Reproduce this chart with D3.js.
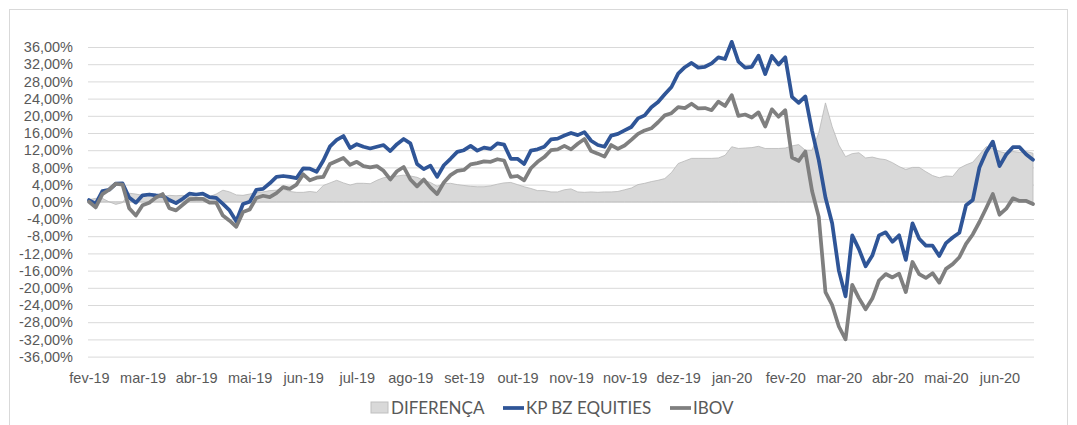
<!DOCTYPE html>
<html>
<head>
<meta charset="utf-8">
<script src="https://cdn.jsdelivr.net/npm/d3@7"></script>
<style>
  body { margin: 0; background: #fff; }
  svg { display: block; font-family: Lato, "Open Sans", sans-serif; }
</style>
</head>
<body>
<svg id="chart" width="1077" height="425"></svg>
<script>
// accumulated return (%), roughly every 3 trading days
const kp = [
  0.4, -0.5, 2.5, 2.8, 4.2, 4.3, 1.0, -0.2, 1.5, 1.7,
  1.5, 1.4, 0.4, -0.3, 0.7, 1.9, 1.7, 1.9, 1.1, 0.9,
  -0.5, -2.0, -4.5, -0.5, 0.0, 2.8, 3.0, 4.3, 5.8, 6.0,
  5.8, 5.5, 7.8, 7.7, 7.0, 9.6, 12.9, 14.4, 15.3, 12.5,
  13.4, 12.8, 12.4, 12.8, 13.2, 11.8, 13.4, 14.6, 13.6, 8.8,
  7.6, 8.4, 5.8, 8.5, 10.0, 11.6, 12.0, 13.0, 11.9, 12.6,
  12.3, 13.6, 13.3, 10.0, 10.0, 8.8, 11.9, 12.2, 12.8, 14.5,
  14.7, 15.4, 16.0, 15.5, 16.2, 14.2, 13.2, 12.8, 15.4, 15.8,
  16.6, 17.4, 19.4, 20.1, 22.0, 23.2, 25.0, 26.7, 29.8, 31.3,
  32.3, 31.2, 31.4, 32.2, 33.6, 33.2, 37.2, 32.6, 31.2, 31.4,
  34.0, 29.7, 33.9, 31.9, 33.6, 24.4, 23.0, 24.5, 16.5, 9.7,
  1.0, -5.0, -16.0, -22.0, -7.8, -11.0, -15.0, -12.5, -7.8, -7.1,
  -9.3, -7.8, -13.5, -5.0, -8.6, -10.2, -10.2, -12.6, -9.6, -8.3,
  -7.2, -0.8, 0.4, 8.0, 11.5, 14.0, 8.3, 11.0, 12.7, 12.7,
  11.0, 9.8
];

const ibov = [
  0.0, -1.3, 1.8, 2.8, 4.2, 4.0, -1.5, -3.2, -0.8, -0.2,
  1.0, 1.8, -1.5, -2.0, -0.7, 0.6, 0.7, 0.7, -0.2, -0.2,
  -3.2, -4.4, -5.8, -2.4, -1.8, 0.9, 1.4, 1.1, 2.0, 3.4,
  3.0, 4.0, 6.4, 5.0, 5.6, 5.8, 8.8, 9.5, 10.2, 8.6,
  9.3, 8.3, 8.0, 8.3, 7.2, 5.2, 7.1, 8.1, 5.2, 3.6,
  5.2, 3.3, 1.8, 4.5, 6.2, 7.2, 7.4, 8.7, 9.0, 9.4,
  9.3, 9.9, 9.6, 5.8, 6.0, 5.0, 7.8, 9.3, 10.4, 12.0,
  12.2, 13.0, 12.2, 13.5, 14.6, 11.8, 11.2, 10.5, 13.2, 12.3,
  13.1, 14.4, 15.8, 16.6, 17.1, 18.5, 20.1, 20.6, 22.0, 21.8,
  22.8, 21.7, 21.8, 21.3, 23.3, 22.3, 24.8, 20.0, 20.3, 19.6,
  20.8, 17.5, 21.5, 19.8, 21.3, 10.3, 9.5, 11.7, 2.5, -3.5,
  -21.0, -24.0, -29.0, -32.0, -19.3, -22.4, -25.0, -22.5, -18.3, -16.8,
  -17.6, -16.7, -21.0, -14.0, -16.8, -17.7, -16.6, -18.8, -15.6, -14.5,
  -12.9, -9.8, -7.6, -4.7, -1.5, 1.8, -3.0, -1.6, 0.8, 0.2,
  0.2, -0.5
];

const diferenca = [
  0.5, 0.8, 0.8, 0.0, -0.6, -0.2, 2.0, 1.8, 1.5, 1.5,
  1.4, 1.2, 1.5, 1.4, 1.5, 1.2, 1.1, 1.0, 1.2, 1.8,
  2.7, 2.3, 1.6, 1.5, 1.8, 2.2, 2.3, 2.6, 2.7, 3.0,
  2.4, 2.2, 2.2, 2.4, 2.2, 3.8, 4.4, 5.0, 4.4, 3.9,
  4.3, 4.3, 4.2, 5.0, 5.6, 5.8, 6.0, 6.2, 6.0, 5.7,
  5.0, 4.5, 3.6, 4.2, 4.3, 4.0, 3.8, 3.6, 3.5, 3.5,
  3.7, 4.1, 4.4, 4.5, 4.0, 3.5, 3.1, 2.6, 2.6, 2.3,
  2.3, 2.8, 3.0, 2.3, 2.2, 2.3, 2.2, 2.3, 2.3, 2.4,
  2.8, 3.2, 4.0, 4.3, 4.7, 5.0, 5.4, 6.8, 8.9, 9.5,
  10.1, 10.1, 10.1, 10.1, 10.2, 10.8, 12.8, 12.4, 12.5, 12.6,
  12.9, 12.4, 12.4, 12.4, 12.5, 13.0, 13.3, 12.0, 12.0, 16.0,
  23.0, 17.5, 13.2, 10.5, 11.2, 11.4, 10.2, 10.4, 10.0, 9.8,
  9.1, 8.2, 7.5, 8.0, 8.0, 7.0, 6.1, 5.6, 6.0, 5.9,
  7.8, 8.6, 9.2, 11.0, 12.8, 12.4, 11.7, 11.3, 11.7, 11.5,
  11.7, 11.3
];

// one label every 8 points
const tickLabels = [
  "fev-19", "mar-19", "abr-19", "mai-19", "jun-19", "jul-19", "ago-19", "set-19", "out-19",
  "nov-19", "nov-19", "dez-19", "jan-20", "fev-20", "mar-20", "abr-20", "mai-20", "jun-20"
];
const tickStep = 8;
const yTicks = d3.range(-36, 37, 4);

const series = [
  { name: "DIFERENÇA", values: diferenca },
  { name: "KP BZ EQUITIES", values: kp, color: "#2f5597" },
  { name: "IBOV", values: ibov, color: "#7f7f7f" }
];

const svg = d3.select("#chart");
const textColor = "#595959";

// chart frame
svg.append("rect")
  .attr("x", 9.5).attr("y", 9.5)
  .attr("width", 1058).attr("height", 420)
  .attr("fill", "#fff")
  .attr("stroke", "#d9d9d9");

const plotLeft = 88, plotRight = 1034;
const x = d3.scaleLinear().domain([0, kp.length - 1]).range([89, 1033]);
const y = d3.scaleLinear().domain([-36, 36]).range([356.6, 47]);

const ptBR = d3.formatLocale({ decimal: ",", thousands: ".", grouping: [3], currency: ["R$", ""], minus: "-" });
const pct = ptBR.format(".2f");

// Y axis + gridlines
const yAxis = svg.append("g")
  .attr("transform", `translate(${plotLeft},0)`)
  .call(d3.axisLeft(y)
    .tickValues(yTicks)
    .tickSize(-(plotRight - plotLeft))
    .tickPadding(15)
    .tickFormat(d => pct(d) + "%"));
yAxis.select(".domain").remove();
yAxis.selectAll("line").attr("stroke", "#d9d9d9").attr("stroke-width", 1);
yAxis.selectAll("text")
  .attr("fill", textColor)
  .style("font-size", "14.5px");

// X axis
const xAxis = svg.append("g")
  .attr("transform", `translate(0,${y(-36)})`)
  .call(d3.axisBottom(x)
    .tickValues(tickLabels.map((d, i) => i * tickStep))
    .tickSize(0)
    .tickPadding(16)
    .tickFormat(d => tickLabels[d / tickStep]));
xAxis.select(".domain").remove();
xAxis.selectAll("text")
  .attr("fill", textColor)
  .style("font-size", "14.5px");

// difference area
const area = d3.area()
  .x((d, i) => x(i))
  .y0(y(0))
  .y1(d => y(d));

svg.append("path")
  .datum(diferenca)
  .attr("d", area)
  .attr("fill", "#d9d9d9")
  .attr("stroke", "#b8b8b8")
  .attr("stroke-width", 0.8);

// lines
const line = d3.line()
  .x((d, i) => x(i))
  .y(d => y(d));

series.slice(1).forEach(s => {
  svg.append("path")
    .datum(s.values)
    .attr("d", line)
    .attr("fill", "none")
    .attr("stroke", s.color)
    .attr("stroke-width", 3.75)
    .attr("stroke-linejoin", "round")
    .attr("stroke-linecap", "round");
});

// legend
const legend = svg.append("g").style("font-size", "17px").attr("fill", textColor);
const legendPos = [371, 503, 670];
series.forEach((s, i) => {
  const g = legend.append("g").attr("transform", `translate(${legendPos[i]},408)`);
  if (i === 0) {
    g.append("rect")
      .attr("x", 0).attr("y", -6)
      .attr("width", 17).attr("height", 11)
      .attr("fill", "#d9d9d9")
      .attr("stroke", "#bfbfbf");
  } else {
    g.append("line")
      .attr("x1", 0).attr("x2", 21)
      .attr("stroke", s.color)
      .attr("stroke-width", 3.75);
  }
  g.append("text")
    .attr("x", i === 0 ? 20 : 23)
    .attr("dy", "0.35em")
    .text(s.name);
});
</script>
</body>
</html>
